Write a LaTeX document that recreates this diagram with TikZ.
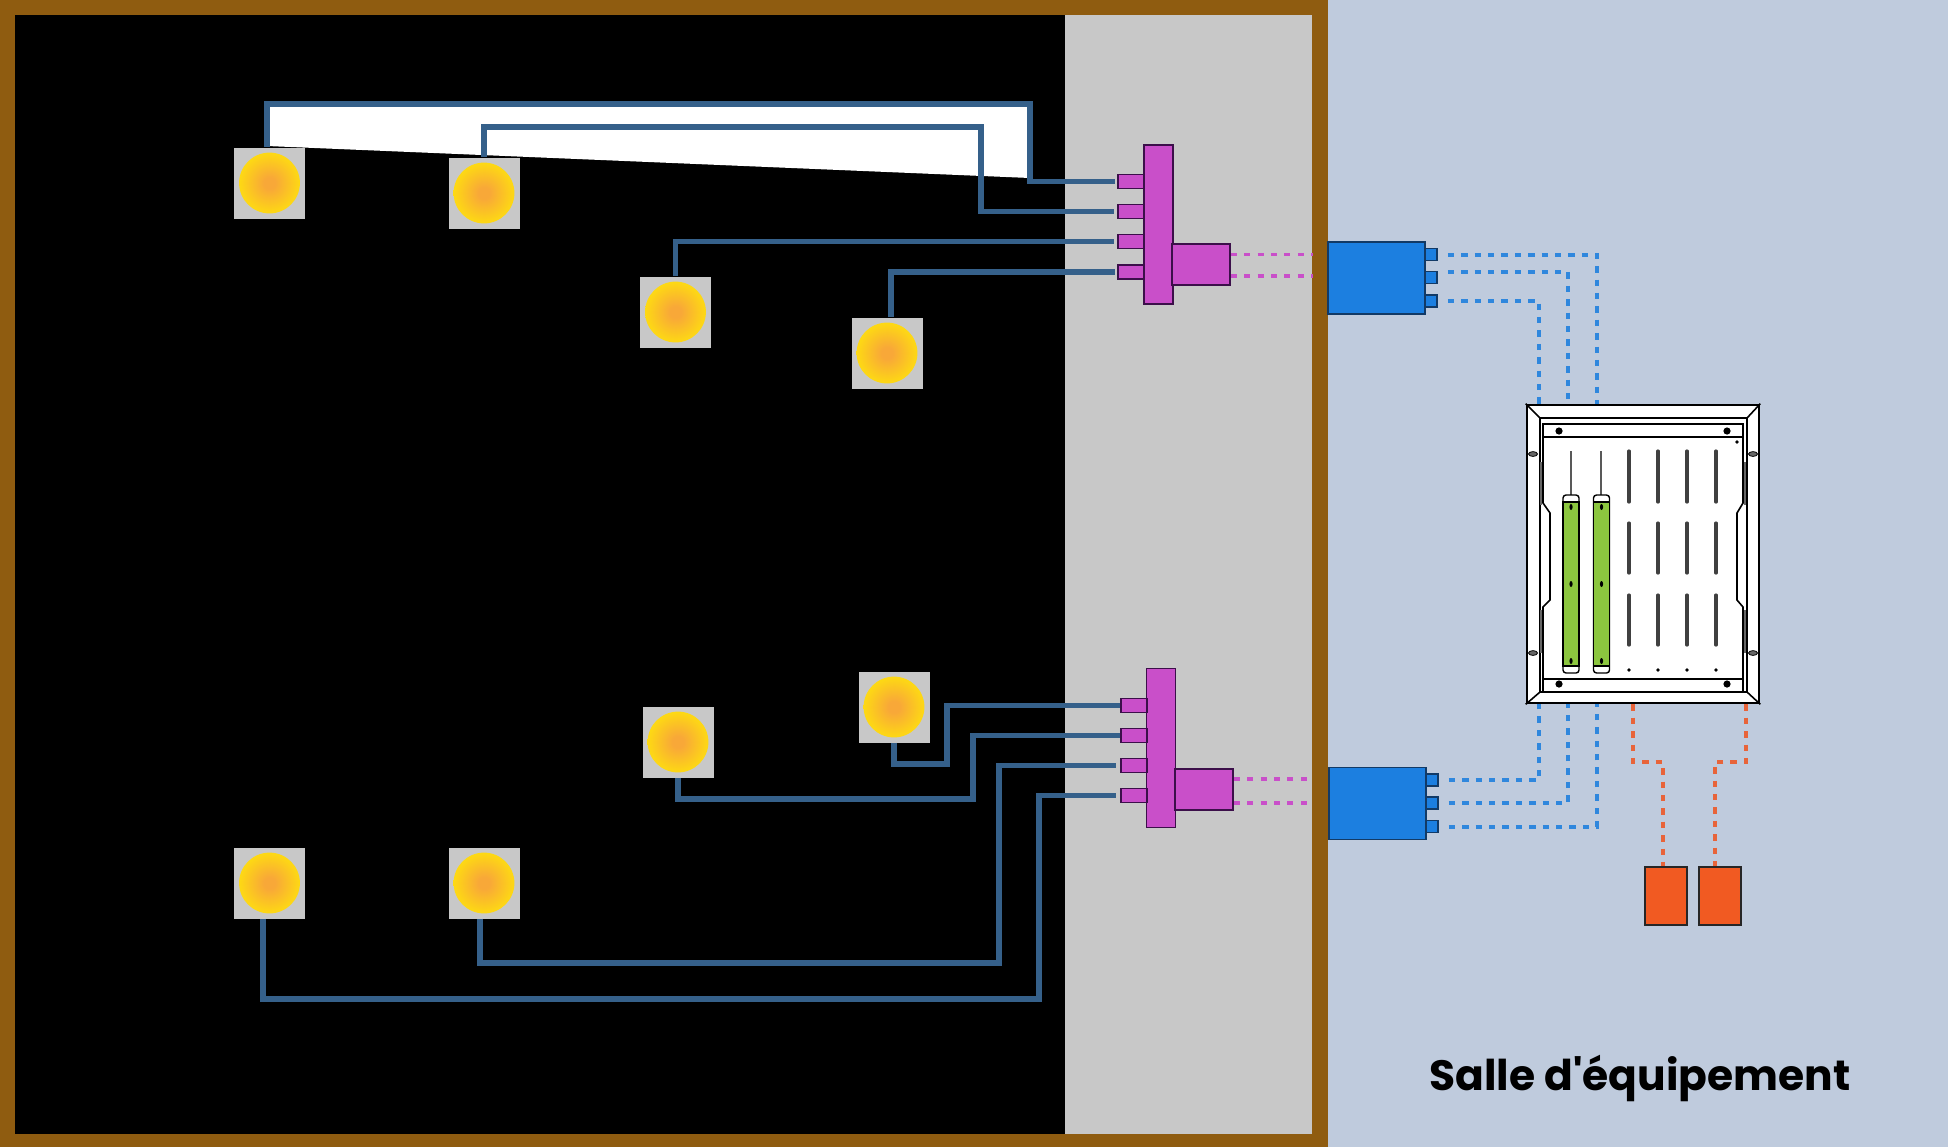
\documentclass[tikz,border=0pt]{standalone}
\usepackage{fontspec}
\newfontfamily\titlefont{Poppins}
\usetikzlibrary{positioning,shapes.geometric}
\definecolor{wallbrown}{HTML}{8F5C10}
\definecolor{roomblue}{HTML}{BFCBDD}
\definecolor{wallgray}{HTML}{C8C8C8}
\definecolor{wirecol}{HTML}{35608A}
\definecolor{hubpurple}{HTML}{C94FC9}
\definecolor{hubedge}{HTML}{3C0F4A}
\definecolor{boxblue}{HTML}{1C7FE0}
\definecolor{boxedge}{HTML}{123A66}
\definecolor{dashblue}{HTML}{2F87DD}
\definecolor{relayorange}{HTML}{F15A22}
\definecolor{dashorange}{HTML}{E8643A}
\definecolor{cardgreen}{HTML}{8CC63F}
\definecolor{lampcore}{HTML}{F8A838}
\definecolor{lampedge}{HTML}{FFE60A}
\pgfdeclareradialshading{lampglow}{\pgfpoint{0bp}{0bp}}{color(0bp)=(lampcore); color(4bp)=(lampcore); color(26bp)=(lampedge); color(50bp)=(lampedge)}
\tikzset{
  lamp/.style={inner sep=0pt,minimum size=35.5pt,fill=wallgray,
    path picture={\shade[shading=lampglow] (path picture bounding box.center) circle (15.2pt);}},
  wire/.style={draw=wirecol,line width=2.6pt},
  hubbar/.style={draw=hubedge,fill=hubpurple,line width=.8pt,inner sep=0pt,minimum width=14.5pt,minimum height=79.5pt},
  hubside/.style={draw=hubedge,fill=hubpurple,line width=.8pt,inner sep=0pt,minimum width=29pt,minimum height=20.5pt},
  hubport/.style={draw=hubedge,fill=hubpurple,line width=.8pt,inner sep=0pt,minimum width=13pt,minimum height=7pt},
  bluebox/.style={draw=boxedge,fill=boxblue,line width=.8pt,inner sep=0pt,minimum width=48.5pt,minimum height=36pt},
  blueport/.style={draw=boxedge,fill=boxblue,line width=.8pt,inner sep=0pt,minimum width=6pt,minimum height=6pt},
  relay/.style={draw=black!85,fill=relayorange,line width=1pt,inner sep=0pt,minimum width=21pt,minimum height=29pt},
  purpledash/.style={draw=hubpurple,line width=1.9pt,dash pattern=on 3pt off 3.7pt},
  bluedash/.style={draw=dashblue,line width=2pt,dash pattern=on 3.2pt off 3.5pt},
  orangedash/.style={draw=dashorange,line width=2pt,dash pattern=on 3.2pt off 3.5pt},
  slot/.style={draw=black!75,line width=1.6pt,line cap=round},
  cardslot/.style={draw=black!65,line width=1.4pt},
  card/.style={draw=black,fill=cardgreen,line width=.8pt,inner sep=0pt,minimum width=8pt,minimum height=82pt},
  cardclip/.style={draw=black,fill=white,line width=.7pt,rounded corners=1.5pt,inner sep=0pt,minimum width=8pt,minimum height=89pt},
  cabinetline/.style={draw=black,line width=.8pt},
  screw/.style={fill=black,circle,inner sep=0pt,minimum size=3.6pt},
  pin/.style={fill=black,circle,inner sep=0pt,minimum size=1.8pt},
  latchmark/.style={draw=black,fill=black!60,ellipse,inner sep=0pt,minimum width=4.5pt,minimum height=2.4pt}
}
\begin{document}
\begin{tikzpicture}[x=0.5pt,y=-0.5pt]
\useasboundingbox (0,0) rectangle (1948,1147);
\fill[roomblue] (0,0) rectangle (1948,1147);
\fill[wallbrown] (0,0) rectangle (1328,1147);
\fill[black] (15,15) rectangle (1065,1134);
\fill[wallgray] (1065,15) rectangle (1312,1134);
\fill[white] (267,104) -- (1030,104) -- (1030,178) -- (267,146) -- cycle;

% lamps
\node[lamp] (lampa) at (269.5,183) {};
\node[lamp] (lampb) at (484,193) {};
\node[lamp] (lampc) at (675.5,312) {};
\node[lamp] (lampd) at (887,353) {};
\node[lamp] (lampe) at (894,707) {};
\node[lamp] (lampf) at (678,742) {};
\node[lamp] (lampg) at (269.5,883) {};
\node[lamp] (lamph) at (484,883) {};

% upper hub
\node[hubbar] (hubup) at (1158.5,224.5) {};
\node[hubside] (sideup) at (1201,264.5) {};
\node[hubport] (upa) at (1131,181.5) {};
\node[hubport] (upb) at (1131,211.5) {};
\node[hubport] (upc) at (1131,241.5) {};
\node[hubport] (upd) at (1131,272) {};

% lower hub
\node[hubbar] (hubdown) at (1161,748) {};
\node[hubside] (sidedown) at (1204,789.5) {};
\node[hubport] (downa) at (1134,705.5) {};
\node[hubport] (downb) at (1134,735.5) {};
\node[hubport] (downc) at (1134,765.5) {};
\node[hubport] (downd) at (1134,795.5) {};

% wires to hubs
\draw[wire,shorten >=1pt] ([xshift=-1.25pt]lampa.north) -- (267,104) -- (1030,104) |- (upa.west);
\draw[wire,shorten >=1.5pt] (lampb.north) |- (981,127) |- (upb.west);
\draw[wire,shorten >=1.5pt] (lampc.north) |- (upc.west);
\draw[wire,shorten >=1pt] ([xshift=2pt]lampd.north) |- (upd.west);
\draw[wire] (lampe.south) |- (947,764) |- (downa.west);
\draw[wire] (lampf.south) |- (973,799) |- (downb.west);
\draw[wire,shorten >=2pt] ([xshift=-2pt]lamph.south) |- (999,963) |- (downc.west);
\draw[wire,shorten >=2pt] ([xshift=-3.25pt]lampg.south) |- (1039,999) |- (downd.west);

% blue boxes
\node[bluebox] (blueup) at (1376.5,278) {};
\node[blueport] (blueupa) at (1431,254.5) {};
\node[blueport] (blueupb) at (1431,277.5) {};
\node[blueport] (blueupc) at (1431,301) {};
\node[bluebox] (bluedown) at (1377.5,803.5) {};
\node[blueport] (bluedowna) at (1432,780) {};
\node[blueport] (bluedownb) at (1432,803) {};
\node[blueport] (bluedownc) at (1432,826.5) {};

% through the wall
\draw[purpledash] ([yshift=5pt]sideup.east) -- ++(82,0);
\draw[purpledash] ([yshift=-5.7pt]sideup.east) -- ++(82,0);
\draw[purpledash] ([yshift=5.2pt]sidedown.east) -- ++(77,0);
\draw[purpledash] ([yshift=-6.8pt]sidedown.east) -- ++(77,0);

% cabinet
\node[draw=black,fill=white,line width=1.3pt,inner sep=0pt,minimum width=116pt,minimum height=149pt] (cabinet) at (1643,554) {};
\draw[bluedash,shorten <=5pt] (blueupa.east) -| (1597,0 |- cabinet.north);
\draw[bluedash,shorten <=5pt] ([yshift=2.75pt]blueupb.east) -| (1568,0 |- cabinet.north);
\draw[bluedash,shorten <=5pt] (blueupc.east) -| (1539,0 |- cabinet.north);
\draw[bluedash,shorten <=5pt] (bluedowna.east) -| (1539,0 |- cabinet.south);
\draw[bluedash,shorten <=5pt] (bluedownb.east) -| (1568,0 |- cabinet.south);
\draw[bluedash,shorten <=5pt] (bluedownc.east) -| (1597,0 |- cabinet.south);
\draw[cabinetline] (1540,418) rectangle (1747,692);
\draw[cabinetline] (cabinet.north west) -- (1540,418);
\draw[cabinetline] (cabinet.north east) -- (1747,418);
\draw[cabinetline] (cabinet.south west) -- (1540,692);
\draw[cabinetline] (cabinet.south east) -- (1747,692);
\draw[cabinetline] (1543,692) -- (1543,607) -- (1550,600) -- (1550,513) -- (1543,503) -- (1543,424) -- (1743,424) -- (1743,503) -- (1737,513) -- (1737,600) -- (1743,607) -- (1743,692);
\draw[black!60,line width=.9pt] (1541,462) -- (1541,505);
\draw[black!60,line width=.9pt] (1541,610) -- (1541,653);
\draw[black!60,line width=.9pt] (1745,462) -- (1745,505);
\draw[black!60,line width=.9pt] (1745,610) -- (1745,653);
\draw[black,line width=1.1pt] (1543,437) -- (1743,437);
\draw[black,line width=1.1pt] (1543,679) -- (1743,679);
\node[screw] (screwa) at (1559,431) {};
\node[screw] (screwb) at (1727,431) {};
\node[screw] (screwc) at (1559,684) {};
\node[screw] (screwd) at (1727,684) {};
\node[pin] (pintop) at (1737,442) {};
\node[latchmark] (latcha) at (1533,454) {};
\node[latchmark] (latchb) at (1753,454) {};
\node[latchmark] (latchc) at (1533,653) {};
\node[latchmark] (latchd) at (1753,653) {};
\foreach \x in {1629,1658,1687,1716} {
  \draw[slot] (\x,451) -- (\x,502);
  \draw[slot] (\x,523) -- (\x,573);
  \draw[slot] (\x,595) -- (\x,645);
  \node[pin] (pin\x) at (\x,670) {};
}
\draw[cardslot] (1571,451) -- (1571,498);
\draw[cardslot] (1601,451) -- (1601,498);
\node[cardclip] (clipa) at (1571,584) {};
\node[cardclip] (clipb) at (1601.5,584) {};
\node[card] (carda) at (1571,584) {};
\node[card] (cardb) at (1601.5,584) {};
\foreach \y in {507,584,661} {
  \node[pin,minimum width=1.6pt,minimum height=3pt,ellipse] (marka\y) at (1571,\y) {};
  \node[pin,minimum width=1.6pt,minimum height=3pt,ellipse] (markb\y) at (1601.5,\y) {};
}

% relays
\node[relay] (relaya) at (1666,896) {};
\node[relay] (relayb) at (1720,896) {};
\draw[orangedash] (1633,0 |- cabinet.south) |- (1663,762) -- (1663,0 |- relaya.north);
\draw[orangedash] (1746,0 |- cabinet.south) |- (1715,762) -- (1715,0 |- relayb.north);

\node[font=\titlefont\bfseries,text=black,inner sep=0pt] (roomtitle) at (1640,1078) {\fontsize{21.2pt}{25pt}\selectfont Salle d'équipement};
\end{tikzpicture}
\end{document}
